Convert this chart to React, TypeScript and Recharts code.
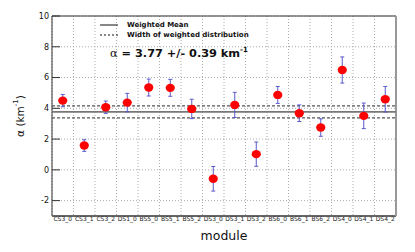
import React from 'react';
import {
  ComposedChart,
  Scatter,
  ErrorBar,
  XAxis,
  YAxis,
  CartesianGrid,
  ReferenceLine,
} from 'recharts';

const modules = [
  'CS3_0', 'CS3_1', 'CS3_2', 'DS1_0', 'BS5_0', 'BS5_1', 'BS5_2', 'DS3_0',
  'DS3_1', 'DS3_2', 'BS6_0', 'BS6_1', 'BS6_2', 'DS4_0', 'DS4_1', 'DS4_2',
];
const alphaValues = [4.5, 1.58, 4.07, 4.37, 5.35, 5.33, 3.96, -0.58, 4.22, 1.02, 4.87, 3.68, 2.75, 6.49, 3.51, 4.59];
const alphaErrors = [0.4, 0.38, 0.4, 0.6, 0.55, 0.55, 0.63, 0.8, 0.82, 0.79, 0.55, 0.54, 0.57, 0.85, 0.83, 0.83];
const weightedMean = 3.77;
const weightedWidth = 0.39;
const yDomain: [number, number] = [-3, 10];
const yMajorTicks = [-2, 0, 2, 4, 6, 8, 10];
const yMinorTicks = [-3, -2.5, -2, -1.5, -1, -0.5, 0, 0.5, 1, 1.5, 2, 2.5, 3, 3.5, 4, 4.5, 5, 5.5, 6, 6.5, 7, 7.5, 8, 8.5, 9, 9.5, 10];
const xBoundaryTicks = [0, 1, 2, 3, 4, 5, 6, 7, 8, 9, 10, 11, 12, 13, 14, 15, 16];

// each module occupies one unit bin on the x axis; its point sits at the bin centre
const data = modules.map((m, i) => ({ module: m, pos: i + 0.5, alpha: alphaValues[i], err: alphaErrors[i] }));
const xCenterTicks = data.map((d) => d.pos);
const xDomain: [number, number] = [0, modules.length];

const W = 415;
const H = 252;
const FONT = 'DejaVu Sans';

const Dot = (props: any) => {
  const { cx, cy } = props;
  if (cx == null || cy == null) return null;
  return <ellipse cx={cx} cy={cy} rx={4.6} ry={4.2} fill="#ff0000" />;
};

const Nothing = () => <g />;

const YLabel = (props: any) => {
  const vb = props.viewBox || {};
  const cx = vb.x + 19;
  const cy = vb.y + vb.height / 2;
  return (
    <text
      x={cx}
      y={cy}
      transform={`rotate(-90 ${cx} ${cy})`}
      textAnchor="middle"
      fontFamily={FONT}
      fontSize={10.5}
      fill="#111"
      dominantBaseline="central"
    >
      α (km<tspan dy={-4} fontSize={7}>-1</tspan><tspan dy={4}>)</tspan>
    </text>
  );
};

const XLabel = (props: any) => {
  const vb = props.viewBox || {};
  return (
    <text
      x={vb.x + vb.width / 2}
      y={vb.y + 24}
      textAnchor="middle"
      fontFamily={FONT}
      fontSize={12.5}
      fill="#111"
    >
      module
    </text>
  );
};

export default function App() {
  return (
    <div style={{ position: 'absolute', left: 0, top: 0, width: W, height: H, background: '#fff' }}>
      <ComposedChart
        width={W}
        height={H}
        data={data}
        margin={{ top: 16, right: 19, bottom: 0, left: 0 }}
      >
        <CartesianGrid
          stroke="#aaa"
          strokeDasharray="1 2"
          verticalValues={xBoundaryTicks}
          horizontalValues={yMajorTicks}
        />
        {/* plot frame: top + left dark, bottom darker grey, right light grey shadow */}
        <CartesianGrid stroke="#333" strokeWidth={1} horizontalValues={[yDomain[1]]} verticalValues={[xDomain[0]]} />
        <CartesianGrid stroke="#666" strokeWidth={2} horizontalValues={[yDomain[0]]} vertical={false} />
        <CartesianGrid stroke="#999" strokeWidth={2} verticalValues={[xDomain[1]]} horizontal={false} />
        <XAxis
          xAxisId="bnd"
          dataKey="pos"
          type="number"
          domain={xDomain}
          ticks={xBoundaryTicks}
          allowDataOverflow
          height={1}
          interval={0}
          tick={false}
          tickSize={-6}
          axisLine={false}
          tickLine={{ stroke: '#333' }}
        />
        <XAxis
          dataKey="pos"
          type="number"
          domain={xDomain}
          ticks={xCenterTicks}
          allowDataOverflow
          height={35}
          interval={0}
          tickLine={false}
          axisLine={false}
          tickSize={0}
          tickMargin={1}
          tickFormatter={(v: number) => modules[Math.floor(v)] ?? ''}
          tick={{ fontSize: 6, fill: '#222', fontFamily: FONT }}
          label={<XLabel />}
        />
        <YAxis
          yAxisId="minor"
          type="number"
          domain={yDomain}
          ticks={yMinorTicks}
          allowDataOverflow
          width={1}
          interval={0}
          tick={false}
          tickSize={-4}
          axisLine={false}
          tickLine={{ stroke: '#333' }}
        />
        <YAxis
          type="number"
          domain={yDomain}
          ticks={yMajorTicks}
          allowDataOverflow
          width={51}
          interval={0}
          tickLine={{ stroke: '#333' }}
          axisLine={false}
          tickSize={-8}
          tickMargin={11}
          tick={{ fontSize: 8, fill: '#111', fontFamily: FONT }}
          label={<YLabel />}
        />
        <ReferenceLine y={weightedMean} stroke="#777" strokeWidth={1.6} />
        <ReferenceLine y={weightedMean + weightedWidth} stroke="#555" strokeWidth={1.4} strokeDasharray="3 2" />
        <ReferenceLine y={weightedMean - weightedWidth} stroke="#555" strokeWidth={1.4} strokeDasharray="3 2" />
        <Scatter xAxisId="bnd" yAxisId="minor" dataKey="alpha" shape={<Nothing />} isAnimationActive={false} />
        <Scatter dataKey="alpha" fill="#ff0000" shape={<Dot />} isAnimationActive={false}>
          <ErrorBar dataKey="err" direction="y" width={2} stroke="#5a5acc" strokeWidth={1} isAnimationActive={false} />
        </Scatter>
      </ComposedChart>
      <svg
        width={W}
        height={H}
        style={{ position: 'absolute', left: 0, top: 0, pointerEvents: 'none' }}
      >
        <line x1={100} y1={25} x2={118} y2={25} stroke="#111" strokeWidth={1} />
        <text x={127} y={25} dominantBaseline="central" fontFamily={FONT} fontWeight="bold" fontSize={7} fill="#111">
          Weighted Mean
        </text>
        <line x1={100} y1={35} x2={118} y2={35} stroke="#111" strokeWidth={1} strokeDasharray="2 2" />
        <text x={127} y={35} dominantBaseline="central" fontFamily={FONT} fontWeight="bold" fontSize={7} fill="#111">
          Width of weighted distribution
        </text>
        <text x={110} y={57} fontFamily={FONT} fontWeight="bold" fontSize={11.3} fill="#111">
          <tspan fontFamily="DejaVu Serif" fontWeight="normal">α</tspan> = {weightedMean.toFixed(2)} +/- {weightedWidth.toFixed(2)} km
          <tspan dy={-5} fontSize={7}>-1</tspan>
        </text>
      </svg>
    </div>
  );
}
